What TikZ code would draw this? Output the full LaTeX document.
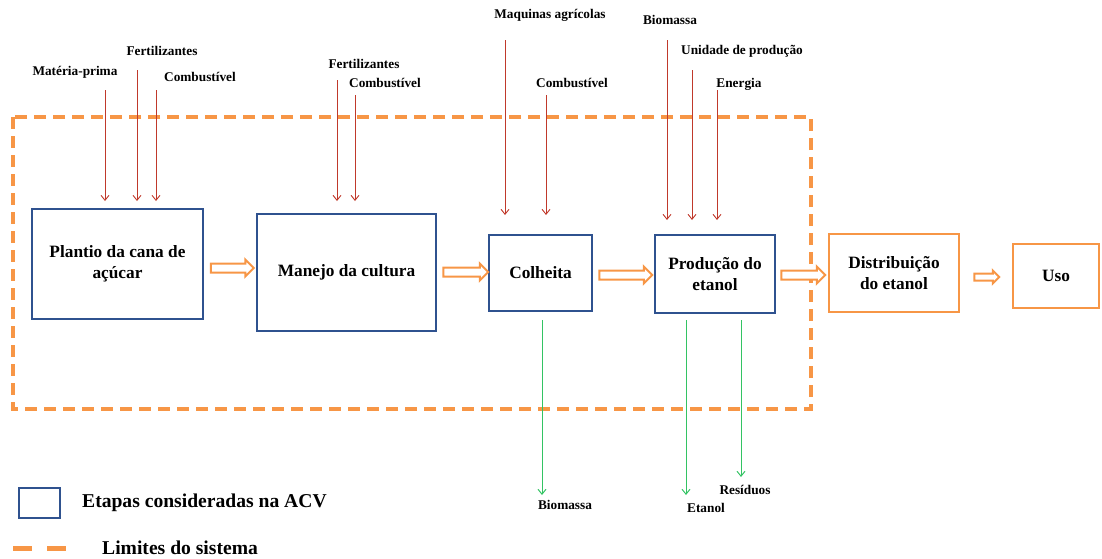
\documentclass[tikz,border=0pt]{standalone}
\usepackage{fontspec}
\setmainfont{Liberation Serif}
\usetikzlibrary{arrows.meta,shapes.arrows,calc}
\definecolor{boxblue}{HTML}{2F528F}
\definecolor{acvorange}{HTML}{F79646}
\definecolor{inred}{HTML}{C0392B}
\definecolor{outgreen}{HTML}{33C363}
\begin{document}
\begin{tikzpicture}[x=1pt,y=-1pt,
  stage/.style={draw=boxblue, line width=2.6pt, font=\bfseries\fontsize{17.3}{20.5}\selectfont, align=center, inner sep=0pt},
  final/.style={stage, draw=acvorange},
  lbl/.style={font=\bfseries\fontsize{13.3}{15}\selectfont, inner sep=0pt},
  inarr/.style={draw=inred, line width=0.9pt, -{Straight Barb[length=5pt,width=8pt]}},
  outarr/.style={draw=outgreen, line width=1pt, -{Straight Barb[length=5pt,width=8pt]}},
  flow/.style={single arrow, draw=acvorange, line width=2pt, fill=white, inner sep=3.5pt,
     single arrow head extend=4pt, minimum width=16pt, shape border rotate=0},
  legtext/.style={font=\bfseries\fontsize{19.6}{23}\selectfont, inner sep=0pt, anchor=west}
]
\useasboundingbox (0,0) rectangle (1102,558);

% system boundary
\draw[acvorange, line width=4pt, dash pattern=on 12pt off 7pt] (13,117) rectangle (811,409);

% stages
\node[stage, minimum width=171pt, minimum height=110pt] (b1) at (117.5,264) {Plantio da cana de\\açúcar};
\node[stage, minimum width=179pt, minimum height=117pt] (b2) at (346.5,272.5) {Manejo da cultura};
\node[stage, minimum width=103pt, minimum height=76pt] (b3) at (540.5,273) {Colheita};
\node[stage, minimum width=120pt, minimum height=78pt] (b4) at (715,274) {Produção do\\etanol};
\node[final, minimum width=130pt, minimum height=78pt] (b5) at (894,273) {Distribuição\\do etanol};
\node[final, minimum width=86pt, minimum height=64pt] (b6) at (1056,276) {Uso};

% flow arrows
\node[flow, minimum height=43pt] (f1) at (230,268) {};
\node[flow, minimum height=45pt] (f2) at (463.5,272) {};
\node[flow, minimum height=53pt] (f3) at (623.5,275) {};
\node[flow, minimum height=44pt] (f4) at (801,275) {};
\node[flow, minimum height=25pt, minimum width=13pt, inner sep=2.5pt, single arrow head extend=3pt] (f5) at (985,277) {};

% input labels
\node[lbl] (l1) at (75,72) {Matéria-prima};
\node[lbl] (l2) at (162,51) {Fertilizantes};
\node[lbl] (l3) at (200,77) {Combustível};
\node[lbl] (l4) at (364,64) {Fertilizantes};
\node[lbl] (l5) at (385,83) {Combustível};
\node[lbl] (l6) at (550,15) {Maquinas agrícolas};
\node[lbl] (l7) at (572,83) {Combustível};
\node[lbl] (l8) at (670,20) {Biomassa};
\node[lbl] (l9) at (742,51) {Unidade de produção};
\node[lbl] (l10) at (739,84) {Energia};

% input arrows
\draw[inarr] (105,90) -- (105,201);
\draw[inarr] (137,70) -- (137,201);
\draw[inarr] (156,90) -- (156,201);
\draw[inarr] (337,80) -- (337,201);
\draw[inarr] (355,95) -- (355,201);
\draw[inarr] (505,40) -- (505,215);
\draw[inarr] (546,95) -- (546,215);
\draw[inarr] (667,40) -- (667,220);
\draw[inarr] (692,70) -- (692,220);
\draw[inarr] (717,90) -- (717,220);

% outputs
\node[lbl] (o1) at (565,505) {Biomassa};
\node[lbl] (o2) at (706,508) {Etanol};
\node[lbl] (o3) at (745,490) {Resíduos};
\draw[outarr] (542,320) -- (542,495);
\draw[outarr] (686,320) -- (686,495);
\draw[outarr] (741,320) -- (741,477);

% legend
\node[draw=boxblue, line width=2.6pt, minimum width=41pt, minimum height=30pt, inner sep=0pt] (legbox) at (39.5,503) {};
\node[legtext] (legt1) at (82,503) {Etapas consideradas na ACV};
\coordinate (lega) at (13,548);
\coordinate (legb) at (66,548);
\draw[acvorange, line width=5pt, dash pattern=on 19pt off 15pt] (lega) -- (legb);
\node[legtext] (legt2) at (102,548) {Limites do sistema};
\end{tikzpicture}
\end{document}
